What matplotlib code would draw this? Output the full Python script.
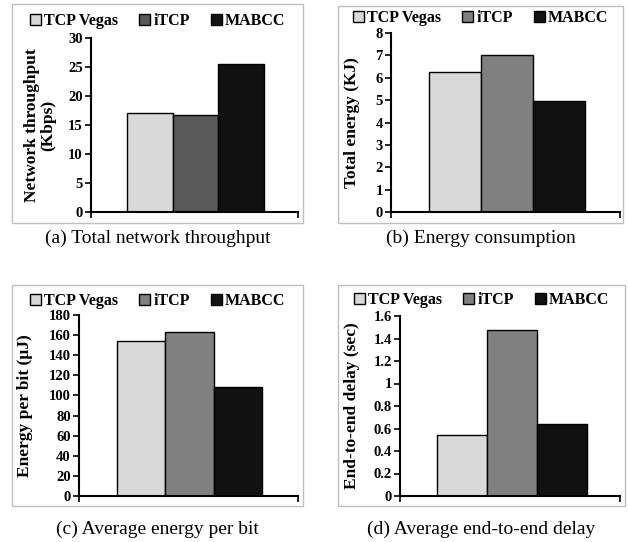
import numpy as np
import matplotlib
matplotlib.use('Agg')
import matplotlib.pyplot as plt
from matplotlib.patches import Rectangle

# Data
schemes = ['TCP Vegas', 'iTCP', 'MABCC']
throughput = [17.1, 16.7, 25.5]        # Kbps
total_energy = [6.27, 7.0, 4.95]       # KJ
energy_per_bit = [153.8, 163.4, 108.7]  # uJ
delay = [0.538, 1.479, 0.639]          # sec

captions = ['(a) Total network throughput', '(b) Energy consumption',
            '(c) Average energy per bit', '(d) Average end-to-end delay']
ylabels = ['Network throughput\n(Kbps)', 'Total energy (KJ)',
           'Energy per bit (\u00b5J)', 'End-to-end delay (sec)']
yticks = [np.arange(0, 31, 5), np.arange(0, 9, 1),
          np.arange(0, 181, 20), np.arange(0, 1.61, 0.2)]
yticklabels = [[str(v) for v in range(0, 31, 5)],
               [str(v) for v in range(0, 9)],
               [str(v) for v in range(0, 181, 20)],
               ['0', '0.2', '0.4', '0.6', '0.8', '1', '1.2', '1.4', '1.6']]

colors_a = ['#d9d9d9', '#595959', '#111111']
colors = ['#d9d9d9', '#808080', '#111111']

W, H = 628, 542
fig = plt.figure(figsize=(W / 100, H / 100), dpi=100)
plt.rcParams['font.family'] = ['Liberation Serif', 'DejaVu Serif']


def fx(px):
    return px / W


def fy(py):
    return 1 - py / H


# pixel layout: axes (left, right, top, bottom), box (l, t, r, b), legend y, caption y,
# right edge of the y label, xlim
panels = [
    dict(ax=(91, 298, 38, 212), box=(12, 4, 303, 223), leg=21, cap=238, ylx=56, xlim=(-2.29, 2.24)),
    dict(ax=(391, 620, 33, 212), box=(338, 6, 623, 223), leg=18, cap=238, ylx=360, xlim=(-2.23, 2.17)),
    dict(ax=(79, 298, 315, 496), box=(12, 285, 303, 506), leg=301, cap=529, ylx=33, xlim=(-2.29, 2.25)),
    dict(ax=(400, 620, 316, 496), box=(338, 285, 625, 506), leg=300, cap=529, ylx=360, xlim=(-2.24, 2.16)),
]
datasets = [throughput, total_energy, energy_per_bit, delay]

for i, p in enumerate(panels):
    l, r, t, b = p['ax']
    ax = fig.add_axes([fx(l), fy(b), fx(r - l), (b - t) / H])
    cols = colors_a if i == 0 else colors
    x = np.arange(len(schemes)) - 1
    bars = ax.bar(x, datasets[i], width=1.0, color=cols, edgecolor='black', linewidth=1.0)
    for bar, name in zip(bars, schemes):
        bar.set_label(name)

    ax.set_xlim(*p['xlim'])
    ax.set_ylim(yticks[i][0], yticks[i][-1])
    ax.set_yticks(yticks[i])
    ax.set_yticklabels(yticklabels[i], fontweight='bold', fontsize=10.5)
    ax.set_xticks(list(p['xlim']))
    ax.set_xticklabels([])
    ax.tick_params(axis='both', direction='out', length=4, width=1.2, pad=2)
    for s in ['top', 'right']:
        ax.spines[s].set_visible(False)
    for s in ['left', 'bottom']:
        ax.spines[s].set_linewidth(1.5)
    ax.patch.set_visible(False)

    ax.set_ylabel(ylabels[i], fontweight='bold', fontsize=12.5, linespacing=1.0)
    ax.yaxis.set_label_coords((p['ylx'] - l) / (r - l), 0.5)

    bl, bt, br, bb = p['box']
    fig.patches.append(Rectangle((fx(bl), fy(bb)), fx(br - bl), (bb - bt) / H,
                                 transform=fig.transFigure, fill=False,
                                 edgecolor='#bfbfbf', linewidth=1.0))

    ax.legend(loc='center', bbox_to_anchor=(fx((bl + br) / 2), fy(p['leg'])),
              bbox_transform=fig.transFigure, ncol=3, frameon=False,
              prop={'weight': 'bold', 'size': 11.5}, handlelength=0.7,
              handleheight=0.7, handletextpad=0.2, columnspacing=1.3,
              borderpad=0, borderaxespad=0)

    fig.text(fx((bl + br) / 2), fy(p['cap']), captions[i], ha='center', va='center',
             fontsize=14)

fig.savefig('out.png', dpi=100)
